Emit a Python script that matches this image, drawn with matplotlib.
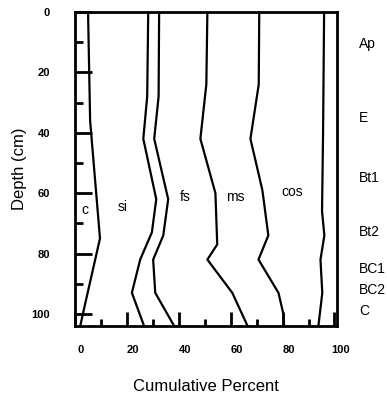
import matplotlib.pyplot as plt
from matplotlib.ticker import MultipleLocator
import matplotlib.transforms as mtransforms

plt.rcParams['font.family'] = ['Liberation Sans', 'DejaVu Sans']

# depth (cm) of the vertices of each cumulative curve
c_depth = [0, 36, 75, 100, 104]
c_pct = [5.0, 5.8, 9.6, 3.0, 2.0]

si_depth = [0, 28, 42, 62, 73, 82, 93, 104]
si_pct = [28.2, 27.8, 26.3, 31.3, 29.6, 25.1, 21.9, 26.6]

vfs_depth = [0, 28, 42, 62, 74, 82, 93, 104]
vfs_pct = [32.4, 32.2, 30.5, 35.9, 34.0, 30.1, 30.9, 38.2]

fs_depth = [0, 24, 42, 60, 77, 82, 93, 104]
fs_pct = [51.0, 50.6, 48.3, 54.1, 54.8, 51.0, 60.6, 66.5]

ms_depth = [0, 24, 42, 59, 74, 82, 93, 100, 104]
ms_pct = [71.0, 70.8, 67.6, 72.2, 74.5, 70.7, 78.4, 80.3, 80.6]

cos_depth = [0, 40, 66, 74, 82, 93, 104]
cos_pct = [96.0, 95.6, 95.2, 96.1, 94.6, 95.3, 93.8]

curves = [(c_pct, c_depth), (si_pct, si_depth), (vfs_pct, vfs_depth),
          (fs_pct, fs_depth), (ms_pct, ms_depth), (cos_pct, cos_depth)]

# fraction labels inside the bands
band_names = ['c', 'si', 'fs', 'ms', 'cos']
band_x = [3.9, 18.5, 42.5, 61.8, 83.8]
band_y = [65.5, 64.7, 61.4, 61.4, 59.7]

# soil horizons on the right
horizons = ['Ap', 'E', 'Bt1', 'Bt2', 'BC1', 'BC2', 'C']
horizon_depth = [10.5, 35, 55, 73, 85, 92, 99]

fig = plt.figure(figsize=(3.87, 4.0), dpi=100)
ax = fig.add_axes([0.194, 0.185, 0.677, 0.785])

for xs, ys in curves:
    ax.plot(xs, ys, color='black', lw=1.6)

for name, x, y in zip(band_names, band_x, band_y):
    ax.text(x, y, name, fontsize=10, ha='center', va='center')

for name, d in zip(horizons, horizon_depth):
    ax.text(1.085, d, name, fontsize=10, ha='left', va='center',
            transform=ax.get_yaxis_transform())

ax.set_xlim(0, 101)
ax.set_ylim(104, 0)

for side in ax.spines.values():
    side.set_linewidth(2)

ax.xaxis.set_major_locator(MultipleLocator(20))
ax.xaxis.set_minor_locator(MultipleLocator(10))
ax.yaxis.set_major_locator(MultipleLocator(20))
ax.yaxis.set_minor_locator(MultipleLocator(10))
ax.tick_params(which='both', direction='in', width=2, top=False, right=False)
ax.tick_params(axis='x', which='major', length=10, pad=14, labelsize=8)
ax.tick_params(axis='x', which='minor', length=5)
ax.tick_params(axis='y', which='major', length=12, pad=18, labelsize=8)
ax.tick_params(axis='y', which='minor', length=6)
for lab in ax.get_xticklabels() + ax.get_yticklabels():
    lab.set_fontweight('bold')

# tick labels sit a bit to the right of the ticks in the original
shift = mtransforms.ScaledTranslation(6 / 100, 0, fig.dpi_scale_trans)
for lab in ax.get_xticklabels():
    lab.set_transform(lab.get_transform() + shift)

ax.set_xlabel('Cumulative Percent', fontsize=12, labelpad=17)
ax.set_ylabel('Depth (cm)', fontsize=12, labelpad=3)

fig.savefig('out.png', dpi=100)
